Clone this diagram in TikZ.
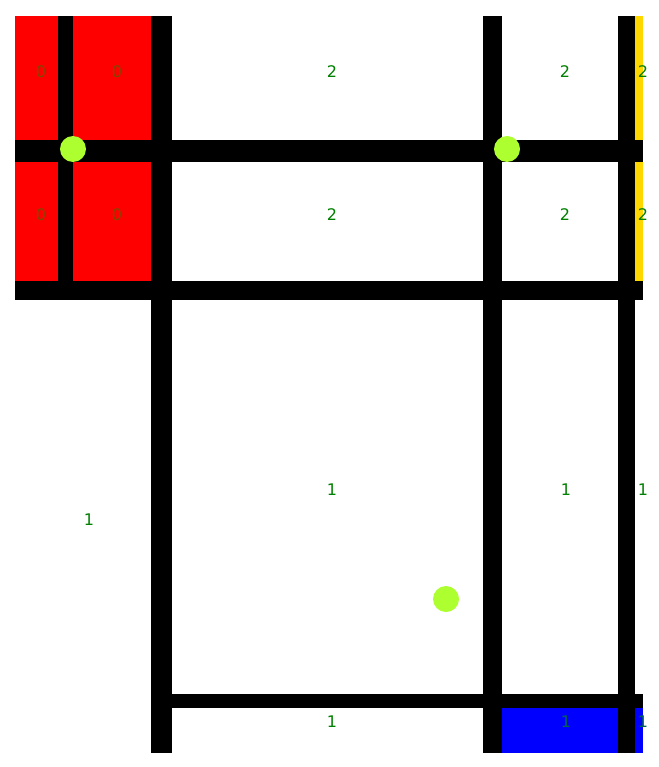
\documentclass[tikz,border=0pt]{standalone}
\usepackage{fontspec}
\setmainfont{DejaVu Sans}
\definecolor{mred}{RGB}{255,0,0}
\definecolor{mgold}{RGB}{255,215,0}
\definecolor{mblue}{RGB}{0,0,255}
\definecolor{dotcol}{RGB}{173,255,47}
\definecolor{labwhite}{RGB}{0,128,0}
\definecolor{labred}{RGB}{128,72,0}
\definecolor{labblue}{RGB}{0,100,80}
\tikzset{
  bar/.style={fill=black, draw=none},
  dotmark/.style={circle, fill=dotcol, draw=none, minimum size=26pt, inner sep=0pt},
  lab/.style={font=\fontsize{16}{18}\selectfont, text=labwhite, inner sep=0pt},
  labr/.style={lab, text=labred},
  labb/.style={lab, text=labblue},
}
\begin{document}
\begin{tikzpicture}[x=1pt, y=-1pt]
\useasboundingbox (0,0) rectangle (658,767);
\fill[white] (0,0) rectangle (658,767);
% colour fills
\fill[mred] (15,16) rectangle (151,281);
\fill[mgold] (635,16) rectangle (643,281);
\fill[mblue] (502,708) rectangle (643,753);
% black bars
\fill[bar] (15,140) rectangle (643,162);
\fill[bar] (15,281) rectangle (643,300);
\fill[bar] (151,694) rectangle (643,708);
\fill[bar] (58,16) rectangle (73,281);
\fill[bar] (151,16) rectangle (172,753);
\fill[bar] (483,16) rectangle (502,753);
\fill[bar] (618,16) rectangle (635,753);
% dots
\node[dotmark] (d1) at (73,149) {};
\node[dotmark] (d2) at (507,149) {};
\node[dotmark] (d3) at (446,599) {};
% labels
\node[labr] (a1) at (41,72) {0};
\node[labr] (a2) at (117,72) {0};
\node[labr] (a3) at (41,215) {0};
\node[labr] (a4) at (117,215) {0};
\node[lab] (b1) at (332,72) {2};
\node[lab] (b2) at (565,72) {2};
\node[lab] (b3) at (643,72) {2};
\node[lab] (b4) at (332,215) {2};
\node[lab] (b5) at (565,215) {2};
\node[lab] (b6) at (643,215) {2};
\node[lab] (c1) at (89,520) {1};
\node[lab] (c2) at (332,490) {1};
\node[lab] (c3) at (566,490) {1};
\node[lab] (c4) at (643,490) {1};
\node[lab] (c5) at (332,722) {1};
\node[labb] (c6) at (566,722) {1};
\node[labb] (c7) at (643,722) {1};
\end{tikzpicture}
\end{document}
